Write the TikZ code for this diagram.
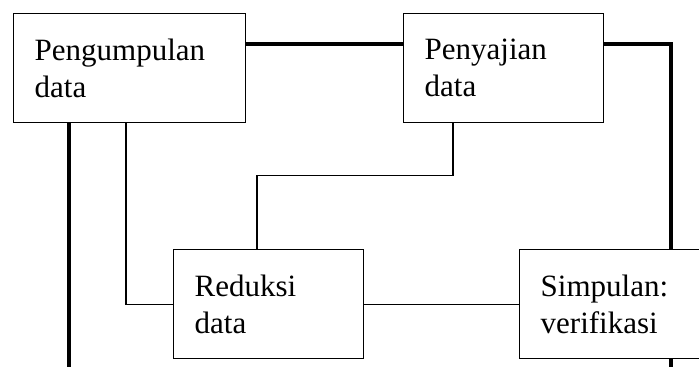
\documentclass[tikz,border=0pt]{standalone}
\usepackage{fontspec}
\setmainfont{Liberation Serif}
\usetikzlibrary{backgrounds}
\begin{document}
\begin{tikzpicture}[x=1pt, y=-1pt,
	box/.style={draw, fill=white, line width=1.4pt, anchor=north west, minimum height=109pt,
		inner xsep=21pt, inner ysep=0pt, align=left, font=\fontsize{31}{37}\selectfont},
	thickline/.style={line width=3.2pt},
	thinline/.style={line width=1.3pt}]
	\useasboundingbox (0,0) rectangle (699,367);

	% the four steps
	\node[box, text width=190pt] (pengumpulan) at (13,13) {Pengumpulan\\data};
	\node[box, text width=158pt] (penyajian) at (403,13) {Penyajian\\data};
	\node[box, text width=148pt] (reduksi) at (173,249) {Reduksi\\data};
	\node[box, text width=148pt] (simpulan) at (519,249) {Simpulan:\\verifikasi};

	% free ends at the lower edge
	\coordinate (leftend) at (69,367);
	\coordinate (rightend) at (671,367);

	\begin{scope}[on background layer]
		% thick outer loop
		\draw[thickline] ([yshift=-31pt]pengumpulan.north east) -- ([yshift=-31pt]penyajian.north west);
		\draw[thickline] ([yshift=-31pt]penyajian.north east) -| (rightend);
		\draw[thickline] (pengumpulan.south west -| leftend) -- (leftend);
		% thin inner links
		\draw[thinline] ([xshift=113pt]pengumpulan.south west) |- (reduksi.west);
		\draw[thinline] ([xshift=50pt]penyajian.south west) -- ++(0,52) -| ([xshift=84pt]reduksi.north west);
		\draw[thinline] (reduksi.east) -- (simpulan.west);
	\end{scope}
\end{tikzpicture}
\end{document}
